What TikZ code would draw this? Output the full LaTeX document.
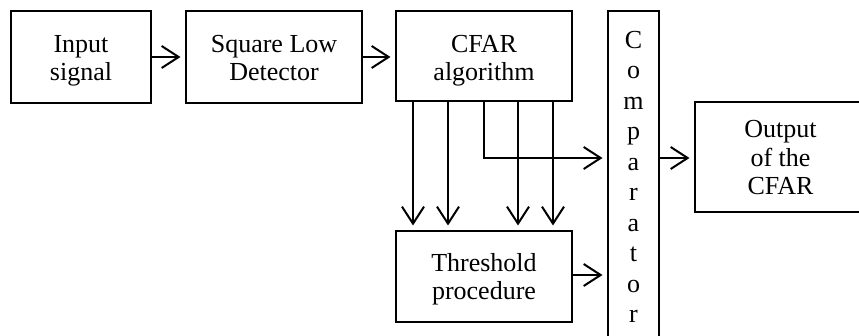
\documentclass[tikz,border=0pt]{standalone}
\usepackage{fontspec}
\setmainfont{Liberation Serif}
\usetikzlibrary{arrows.meta,calc}

\tikzset{
  blk/.style={draw, line width=2pt, rectangle, inner sep=0pt},
  lbl/.style={font=\fontsize{26}{28.5}\selectfont, align=center, inner sep=0pt, anchor=north},
  arr/.style={line width=2pt, -{Straight Barb[length=17pt,width=22pt]}, shorten >=4.5pt},
  lnk/.style={line width=2pt}
}

\begin{document}
\begin{tikzpicture}[x=1pt, y=-1pt]
  \useasboundingbox (0,0) rectangle (859,336);
  \clip (0,0) rectangle (859,336);

  % blocks
  \node[blk, minimum width=140pt, minimum height=92pt] (in)   at (81,57)      {};
  \node[blk, minimum width=176pt, minimum height=92pt] (sq)   at (274,57)     {};
  \node[blk, minimum width=176pt, minimum height=90pt] (cfar) at (484,56)     {};
  \node[blk, minimum width=176pt, minimum height=91pt] (thr)  at (484,276.5)  {};
  \node[blk, minimum width=51pt,  minimum height=340pt] (comp) at (633.5,181) {};
  \node[blk, minimum width=171pt, minimum height=110pt] (out)  at (780.5,157)  {};

  % block texts
  \node[lbl] (tin)   at (81,34.8)    {Input\\signal};
  \node[lbl] (tsq)   at (274,34.8)   {Square Low\\Detector};
  \node[lbl] (tcfar) at (484,34.8)   {CFAR\\algorithm};
  \node[lbl] (tthr)  at (484,253)    {Threshold\\procedure};
  \node[lbl] (tout)  at (780.5,120.5) {Output\\of the\\CFAR};
  \node[lbl, font=\fontsize{26}{30.5}\selectfont] (tcomp) at (633.5,30.8)
    {C\\o\\m\\p\\a\\r\\a\\t\\o\\r};

  % main chain
  \draw[arr] (in.east |- sq.west) -- (sq.west);
  \draw[arr] (sq.east) -- (sq.east -| cfar.west);

  % CFAR outputs feeding the threshold procedure
  \foreach \dx in {18,53,123,158}
    \draw[arr] ([xshift=\dx pt]cfar.south west) -- ([xshift=\dx pt]thr.north west);

  % cell under test to the comparator
  \draw[arr] (cfar.south) |- ([yshift=-1pt]comp.west |- out.west);

  % threshold to the comparator
  \draw[arr] ([yshift=1.5pt]thr.east) -- ([yshift=1.5pt]thr.east -| comp.west);

  % comparator to the output
  \draw[arr] ([yshift=-1pt]comp.east |- out.west) -- ([yshift=-1pt]out.west);
\end{tikzpicture}
\end{document}
